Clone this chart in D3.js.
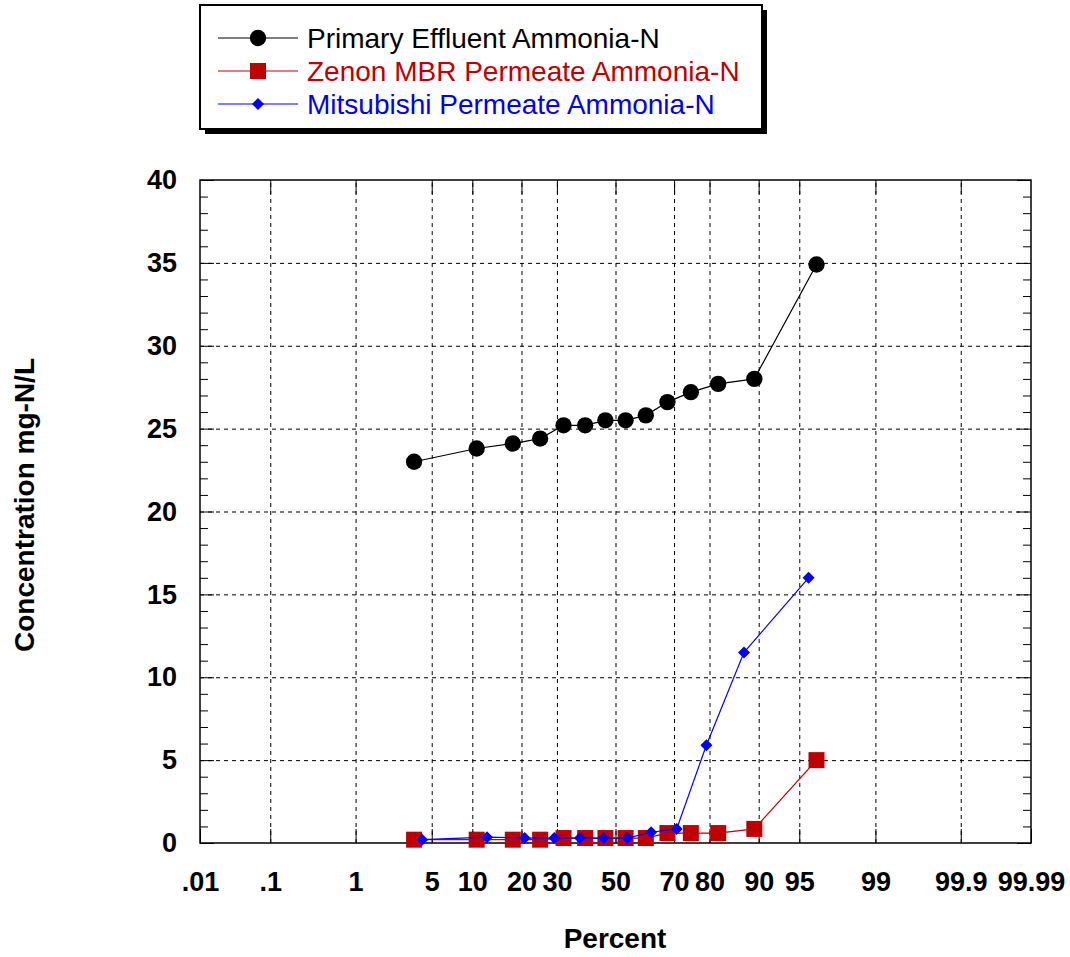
<!DOCTYPE html>
<html>
<head>
<meta charset="utf-8">
<script src="https://cdn.jsdelivr.net/npm/d3@7"></script>
<style>
	body { margin: 0; background: #fff; }
	text { font-family: "Liberation Sans", Arial, sans-serif; }
	.axis text { font-size: 27px; font-weight: bold; fill: #000; }
	.axis path { display: none; }
	.axis line { stroke: #000; }
	.grid line { stroke: #000; stroke-dasharray: 4,4; }
	.grid path { display: none; }
</style>
</head>
<body>
<svg class="chart"></svg>
<script>
/* Probability plot of ammonia-N concentrations */

// Plotting positions (percent) and concentrations (mg-N/L)
var primaryPct = [3.57, 10.7, 17.9, 25.0, 32.1, 39.3, 46.4, 53.6, 60.7, 67.9, 75.0, 82.1, 89.3, 96.4];
var primaryVals = [23.0, 23.8, 24.1, 24.4, 25.2, 25.2, 25.5, 25.5, 25.8, 26.6, 27.2, 27.7, 28.0, 34.9];

var zenonPct = [3.57, 10.7, 17.9, 25.0, 32.1, 39.3, 46.4, 53.6, 60.7, 67.9, 75.0, 82.1, 89.3, 96.4];
var zenonVals = [0.2, 0.2, 0.2, 0.2, 0.3, 0.3, 0.3, 0.3, 0.3, 0.6, 0.6, 0.6, 0.85, 5.0];

var mitsuPct = [4.17, 12.5, 20.8, 29.2, 37.5, 45.8, 54.2, 62.5, 70.8, 79.2, 87.5, 95.8];
var mitsuVals = [0.2, 0.35, 0.3, 0.3, 0.3, 0.3, 0.3, 0.65, 0.85, 5.9, 11.5, 16.0];

var xTickPct = [0.01, 0.1, 1, 5, 10, 20, 30, 50, 70, 80, 90, 95, 99, 99.9, 99.99];
var xTickLabels = [".01", ".1", "1", "5", "10", "20", "30", "50", "70", "80", "90", "95", "99", "99.9", "99.99"];
var yTicks = [0, 5, 10, 15, 20, 25, 30, 35, 40];

var legendNames = ["Primary Effluent Ammonia-N", "Zenon MBR Permeate Ammonia-N", "Mitsubishi Permeate Ammonia-N"];
var legendColors = ["#000", "#c00000", "#0000ff"];
var legendTextColors = ["#000", "#c00000", "#0000ee"];

// Inverse normal CDF (Acklam)
function probit(p) {
	var a = [-3.969683028665376e+01, 2.209460984245205e+02, -2.759285104469687e+02, 1.383577518672690e+02, -3.066479806614716e+01, 2.506628277459239e+00],
		b = [-5.447609879822406e+01, 1.615858368580409e+02, -1.556989798598866e+02, 6.680131188771972e+01, -1.328068155288572e+01],
		c = [-7.784894002430293e-03, -3.223964580411365e-01, -2.400758277161838e+00, -2.549732539343734e+00, 4.374664141464968e+00, 2.938163982698783e+00],
		d = [7.784695709041462e-03, 3.224671290700398e-01, 2.445134137142996e+00, 3.754408661907416e+00];
	var q, r, pl = 0.02425;
	if (p < pl) {
		q = Math.sqrt(-2 * Math.log(p));
		return (((((c[0]*q+c[1])*q+c[2])*q+c[3])*q+c[4])*q+c[5]) / ((((d[0]*q+d[1])*q+d[2])*q+d[3])*q+1);
	}
	if (p > 1 - pl) {
		q = Math.sqrt(-2 * Math.log(1 - p));
		return -(((((c[0]*q+c[1])*q+c[2])*q+c[3])*q+c[4])*q+c[5]) / ((((d[0]*q+d[1])*q+d[2])*q+d[3])*q+1);
	}
	q = p - 0.5;
	r = q * q;
	return (((((a[0]*r+a[1])*r+a[2])*r+a[3])*r+a[4])*r+a[5])*q / (((((b[0]*r+b[1])*r+b[2])*r+b[3])*r+b[4])*r+1);
}

function pz(pct) { return probit(pct / 100); }

var svgW = 1070, svgH = 957;
var margin = {top: 180, left: 200},
	width = 831,
	height = 663;

var x = d3.scaleLinear()
	.domain([pz(0.01), pz(99.99)])
	.range([0, width]);

var y = d3.scaleLinear()
	.domain([0, 40])
	.range([height, 0]);

var svg = d3.select(".chart")
	.attr("width", svgW)
	.attr("height", svgH);

var chart = svg.append("g")
	.attr("transform", "translate(" + margin.left + "," + margin.top + ")");

// dashed grid
var innerX = xTickPct.slice(1, -1).map(pz);
chart.append("g")
	.attr("class", "grid")
	.attr("transform", "translate(0," + height + ")")
	.call(d3.axisBottom(x).tickValues(innerX).tickSize(-height).tickFormat(""));

chart.append("g")
	.attr("class", "grid")
	.call(d3.axisLeft(y).tickValues(yTicks.slice(1, -1)).tickSize(-width).tickFormat(""));

// minor y ticks (every 1) on both sides
var minorY = d3.range(1, 40).filter(function(v) { return v % 5 != 0; });
chart.append("g")
	.attr("class", "axis")
	.call(d3.axisLeft(y).tickValues(minorY).tickSize(-8).tickFormat(""));
chart.append("g")
	.attr("class", "axis")
	.attr("transform", "translate(" + width + ",0)")
	.call(d3.axisRight(y).tickValues(minorY).tickSize(-8).tickFormat(""));

// major ticks
chart.append("g")
	.attr("class", "axis")
	.attr("transform", "translate(0," + height + ")")
	.call(d3.axisBottom(x)
		.tickValues(xTickPct.map(pz))
		.tickSize(-14)
		.tickPadding(29)
		.tickFormat(function(d, i) { return xTickLabels[i]; }));

chart.append("g")
	.attr("class", "axis")
	.call(d3.axisTop(x).tickValues(innerX).tickSize(-14).tickFormat(""));

chart.append("g")
	.attr("class", "axis")
	.call(d3.axisLeft(y).tickValues(yTicks).tickSize(-14).tickPadding(23));

chart.append("g")
	.attr("class", "axis")
	.attr("transform", "translate(" + width + ",0)")
	.call(d3.axisRight(y).tickValues(yTicks).tickSize(-14).tickFormat(""));

// frame
chart.append("rect")
	.attr("width", width)
	.attr("height", height)
	.attr("fill", "none")
	.attr("stroke", "#000")
	.attr("stroke-width", 1.5);

// series
var series = [
	{pct: primaryPct, vals: primaryVals, color: legendColors[0], symbol: d3.symbolCircle, size: 210, rot: 0},
	{pct: zenonPct, vals: zenonVals, color: legendColors[1], symbol: d3.symbolSquare, size: 256, rot: 0},
	{pct: mitsuPct, vals: mitsuVals, color: legendColors[2], symbol: d3.symbolSquare, size: 72, rot: 45}
];

var line = d3.line()
	.x(function(d) { return x(pz(d.p)); })
	.y(function(d) { return y(d.v); });

series.forEach(function(s) {
	var pts = s.pct.map(function(p, i) { return {p: p, v: s.vals[i]}; });
	chart.append("path")
		.datum(pts)
		.attr("d", line)
		.attr("fill", "none")
		.attr("stroke", s.color)
		.attr("stroke-width", 1.2);
	chart.selectAll(null)
		.data(pts)
	  .enter().append("path")
		.attr("d", d3.symbol(s.symbol, s.size))
		.attr("transform", function(d) {
			return "translate(" + x(pz(d.p)) + "," + y(d.v) + ") rotate(" + s.rot + ")";
		})
		.attr("fill", s.color);
});

// axis titles
svg.append("text")
	.attr("transform", "translate(34,505) rotate(-90)")
	.attr("text-anchor", "middle")
	.style("font-size", "28px")
	.style("font-weight", "bold")
	.text("Concentration mg-N/L");

svg.append("text")
	.attr("x", 615)
	.attr("y", 948)
	.attr("text-anchor", "middle")
	.style("font-size", "28px")
	.style("font-weight", "bold")
	.text("Percent");

// legend
var legend = svg.append("g");
legend.append("rect")
	.attr("x", 205).attr("y", 10)
	.attr("width", 562).attr("height", 124)
	.attr("fill", "#000");
legend.append("rect")
	.attr("x", 200).attr("y", 5)
	.attr("width", 562).attr("height", 124)
	.attr("fill", "#fff")
	.attr("stroke", "#000")
	.attr("stroke-width", 2);

series.forEach(function(s, i) {
	var ly = 38 + i * 33;
	legend.append("line")
		.attr("x1", 218).attr("x2", 298)
		.attr("y1", ly).attr("y2", ly)
		.attr("stroke", s.color)
		.attr("stroke-width", 1.2);
	legend.append("path")
		.attr("d", d3.symbol(s.symbol, s.size))
		.attr("transform", "translate(258," + ly + ") rotate(" + s.rot + ")")
		.attr("fill", s.color);
	legend.append("text")
		.attr("x", 307)
		.attr("y", ly + 10)
		.style("font-size", "28px")
		.attr("fill", legendTextColors[i])
		.text(legendNames[i]);
});
</script>
</body>
</html>
